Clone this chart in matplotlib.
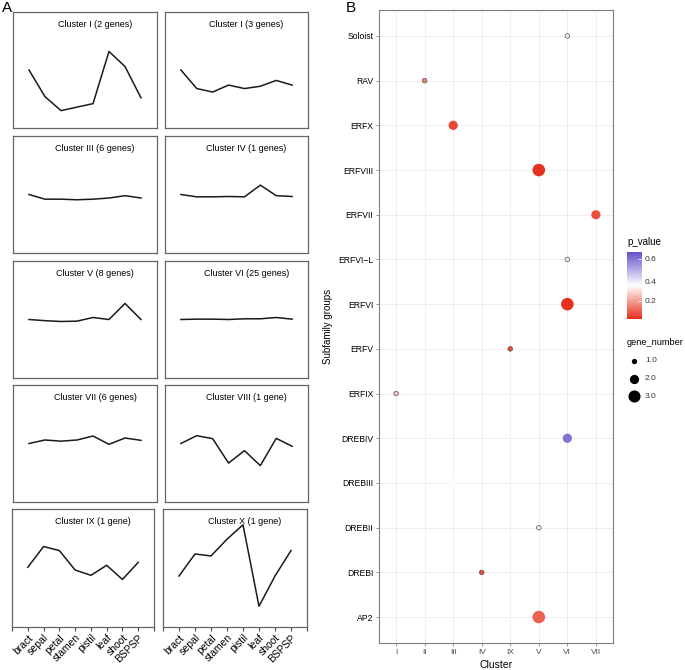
import matplotlib
matplotlib.use('Agg')
import matplotlib.pyplot as plt
from matplotlib.colors import LinearSegmentedColormap, TwoSlopeNorm
from matplotlib.lines import Line2D

plt.rcParams['font.family'] = ['Liberation Sans', 'DejaVu Sans']

# ---- panel A: expression profiles of the clusters ----
tissues = ['bract', 'sepal', 'petal', 'stamen', 'pistil', 'leaf', 'shoot', 'BSPSP']
cluster_titles = ['Cluster I (2 genes)', 'Cluster I (3 genes)',
                  'Cluster III (6 genes)', 'Cluster IV (1 genes)',
                  'Cluster V (8 genes)', 'Cluster VI (25 genes)',
                  'Cluster VII (6 genes)', 'Cluster VIII (1 gene)',
                  'Cluster IX (1 gene)', 'Cluster X (1 gene)']
profile_1 = [0.50, 0.27, 0.15, 0.18, 0.21, 0.66, 0.53, 0.26]
profile_2 = [0.50, 0.34, 0.31, 0.37, 0.34, 0.36, 0.41, 0.37]
profile_3 = [0.50, 0.46, 0.46, 0.455, 0.46, 0.47, 0.49, 0.47]
profile_4 = [0.50, 0.48, 0.48, 0.483, 0.48, 0.58, 0.49, 0.483]
profile_5 = [0.50, 0.49, 0.483, 0.486, 0.517, 0.50, 0.637, 0.50]
profile_6 = [0.50, 0.503, 0.503, 0.50, 0.506, 0.506, 0.517, 0.503]
profile_7 = [0.50, 0.53, 0.52, 0.53, 0.564, 0.493, 0.547, 0.527]
profile_8 = [0.50, 0.567, 0.541, 0.333, 0.439, 0.311, 0.544, 0.476]
profile_9 = [0.506, 0.682, 0.648, 0.483, 0.438, 0.523, 0.403, 0.548]
profile_10 = [0.432, 0.619, 0.602, 0.744, 0.866, 0.176, 0.432, 0.648]
profiles = [profile_1, profile_2, profile_3, profile_4, profile_5,
            profile_6, profile_7, profile_8, profile_9, profile_10]

# ---- panel B: dot plot ----
subfamilies = ['AP2', 'DREBI', 'DREBII', 'DREBIII', 'DREBIV', 'ERFIX', 'ERFV',
               'ERFVI', 'ERFVI\u2212L', 'ERFVII', 'ERFVIII', 'ERFX', 'RAV', 'Soloist']
clusters = ['I', 'II', 'III', 'IV', 'IX', 'V', 'VI', 'VII']
dot_cluster = ['V', 'IV', 'V', 'III', 'VI', 'I', 'IX',
               'VI', 'VI', 'VII', 'V', 'III', 'II', 'VI']
dot_p = [0.09, 0.05, 0.40, 0.35, 0.60, 0.25, 0.05,
         0.01, 0.32, 0.06, 0.01, 0.05, 0.14, 0.31]
dot_genes = [3, 1, 1, 2, 2, 1, 1, 3, 1, 2, 3, 2, 1, 1]

W, H = 685, 670
fig = plt.figure(figsize=(W / 100, H / 100), dpi=100)


def px_axes(x0, y0, x1, y1):
    return fig.add_axes([x0 / W, 1 - y1 / H, (x1 - x0) / W, (y1 - y0) / H])


rows = [(12, 128), (136, 253), (261, 378), (385, 502), (509, 627)]
for i, prof in enumerate(profiles):
    r, c = divmod(i, 2)
    y0, y1 = rows[r]
    if r < 4:
        x0, x1 = (13, 157) if c == 0 else (165, 308)
    else:
        x0, x1 = (12, 154) if c == 0 else (163, 307)
    ax = px_axes(x0, y0, x1, y1)
    ax.plot(range(len(tissues)), prof, color='#1a1a1a', lw=1.1)
    ax.set_xlim(-1, 8)
    ax.set_ylim(0, 1)
    ax.set_yticks([])
    ax.text(0.57, 0.89, cluster_titles[i], transform=ax.transAxes,
            ha='center', va='center', fontsize=6.5)
    for s in ax.spines.values():
        s.set_color('#666666')
        s.set_linewidth(0.9)
    if r == 4:
        ax.set_xticks(range(-1, 9))
        ax.set_xticklabels([''] + tissues + [''], rotation=45, ha='right',
                           rotation_mode='anchor', fontsize=7.5)
        ax.tick_params(axis='x', length=3, width=0.8, color='#444444', pad=1)
    else:
        ax.set_xticks([])

fig.text(2 / W, 1 - 8 / H, 'A', fontsize=11, va='center')
fig.text(346 / W, 1 - 8 / H, 'B', fontsize=11, va='center')

# dot plot
axb = px_axes(379, 10, 613, 643)
cmap = LinearSegmentedColormap.from_list('pv', ['#e62e1b', '#ffffff', '#6650c8'])
norm = TwoSlopeNorm(vmin=0.003, vcenter=0.36, vmax=0.66)
xs = [clusters.index(c) for c in dot_cluster]
ys = list(range(len(subfamilies)))
size_map = {1: 11, 2: 44, 3: 82}
sizes = [size_map[g] for g in dot_genes]
edges = ['#555555' if g == 1 else 'none' for g in dot_genes]
axb.scatter(xs, ys, s=sizes, c=dot_p, cmap=cmap, norm=norm,
            edgecolors=edges, linewidths=0.5, zorder=3)
axb.set_xlim(-0.6, 7.6)
axb.set_ylim(-0.58, 13.58)
axb.set_xticks(range(len(clusters)))
axb.set_xticklabels(clusters, fontsize=6, color='#4d4d4d')
axb.set_yticks(ys)
axb.set_yticklabels(subfamilies, fontsize=6.2, color='black')
axb.tick_params(length=2, width=0.5, color='#666666', pad=2)
axb.grid(True, color='#ebebeb', lw=0.6)
axb.set_axisbelow(True)
for s in axb.spines.values():
    s.set_color('#7f7f7f')
    s.set_linewidth(0.8)
axb.set_xlabel('Cluster', fontsize=7.5, labelpad=3)
axb.set_ylabel('Subfamily groups', fontsize=7, labelpad=4)

# colourbar
cax = px_axes(627, 252, 642, 319)
sm = plt.cm.ScalarMappable(cmap=cmap, norm=norm)
cb = fig.colorbar(sm, cax=cax, ticks=[0.2, 0.4, 0.6])
cb.outline.set_visible(False)
cb.ax.set_yticklabels(['0.2', '0.4', '0.6'], fontsize=6, color='#333333')
cb.ax.tick_params(length=3, width=0.5, color='white', direction='in', pad=2)
fig.text(627 / W, 1 - 242 / H, 'p_value', fontsize=7, va='center')

# size legend
fig.text(627 / W, 1 - 342 / H, 'gene_number', fontsize=6.6, va='center')
for g, lab, yy in zip([1, 2, 3], ['1.0', '2.0', '3.0'], [361, 379, 396]):
    fig.add_artist(Line2D([634 / W], [1 - yy / H], marker='o', ls='none',
                          color='black', markersize=size_map[g] ** 0.5 * 0.85,
                          transform=fig.transFigure))
    fig.text(645 / W, 1 - yy / H, lab, fontsize=6, va='center', color='#333333')

fig.savefig('out.png', dpi=100)
